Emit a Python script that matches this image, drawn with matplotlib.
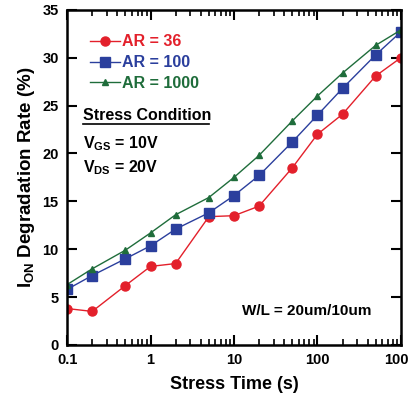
import numpy as np
import matplotlib.pyplot as plt
from matplotlib.ticker import LogLocator, NullFormatter

plt.rcParams['font.family'] = ['Liberation Sans', 'DejaVu Sans']
plt.rcParams['font.weight'] = 'bold'
plt.rcParams['mathtext.fontset'] = 'custom'
plt.rcParams['mathtext.rm'] = 'Liberation Sans:bold'
plt.rcParams['mathtext.bf'] = 'Liberation Sans:bold'
plt.rcParams['mathtext.it'] = 'Liberation Sans:bold'

# stress time (s)
stress_time = [0.1, 0.2, 0.5, 1, 2, 5, 10, 20, 50, 100, 200, 500, 1000]
# I_ON degradation rate (%)
ar36 = [3.8, 3.5, 6.2, 8.2, 8.5, 13.4, 13.5, 14.5, 18.5, 22.0, 24.1, 28.1, 30.0]
ar100 = [5.8, 7.25, 9.0, 10.35, 12.1, 13.8, 15.6, 17.7, 21.2, 24.0, 26.8, 30.3, 32.7]
ar1000 = [6.3, 7.95, 9.9, 11.7, 13.6, 15.4, 17.5, 19.8, 23.4, 26.0, 28.4, 31.3, 32.9]

labels = ["AR = 36", "AR = 100", "AR = 1000"]
colors = ["#e3202b", "#2b3f9d", "#1f6d3b"]

fig = plt.figure(figsize=(4.09, 3.96), dpi=100)
ax = fig.add_axes([0.164, 0.129, 0.816, 0.846])

ax.plot(stress_time, ar36, '-o', color=colors[0], lw=1, ms=6.5, label=labels[0])
ax.plot(stress_time, ar100, '-s', color=colors[1], lw=1, ms=6.5, label=labels[1])
ax.plot(stress_time, ar1000, '-^', color=colors[2], lw=1, ms=5, label=labels[2])

ax.set_xscale('log')
ax.set_xlim(0.1, 1000)
ax.set_ylim(0, 35)
ax.set_xticks([0.1, 1, 10, 100, 1000])
ax.set_xticklabels(["0.1", "1", "10", "100", "1000"])
ax.xaxis.set_minor_locator(LogLocator(base=10, subs=np.arange(2, 10)))
ax.xaxis.set_minor_formatter(NullFormatter())
ax.set_yticks(range(0, 36, 5))

ax.tick_params(which='both', direction='in', top=True, right=True, labelsize=10.5, pad=6)
ax.tick_params(which='major', length=7, width=1.5)
ax.tick_params(which='minor', length=4, width=1.2)
for s in ax.spines.values():
    s.set_linewidth(1.8)

ax.set_xlabel("Stress Time (s)", fontsize=13, fontweight='bold', labelpad=6)
ax.set_ylabel(r"I$_{\mathrm{ON}}$ Degradation Rate (%)", fontsize=13.5, fontweight='bold', labelpad=4)

leg = ax.legend(loc='upper left', bbox_to_anchor=(0.035, 0.96), frameon=False,
                fontsize=11.5, handlelength=1.9, handletextpad=0.12, labelspacing=0.36,
                borderpad=0.2)
for t, c in zip(leg.get_texts(), colors):
    t.set_color(c)
    t.set_fontweight('bold')

ax.text(0.048, 0.685, "Stress Condition", transform=ax.transAxes, fontsize=11.5,
        fontweight='bold', va='center')
ax.plot([0.048, 0.424], [0.66, 0.66], transform=ax.transAxes, color='black', lw=1.2,
        clip_on=False)
ax.text(0.048, 0.6, r"V$_{\mathrm{GS}}$ = 10V", transform=ax.transAxes, fontsize=11.5,
        fontweight='bold', va='center')
ax.text(0.048, 0.53, r"V$_{\mathrm{DS}}$ = 20V", transform=ax.transAxes, fontsize=11.5,
        fontweight='bold', va='center')
ax.text(0.524, 0.10, "W/L = 20um/10um", transform=ax.transAxes, fontsize=11,
        fontweight='bold', va='center')

fig.savefig("out.png", dpi=100)
